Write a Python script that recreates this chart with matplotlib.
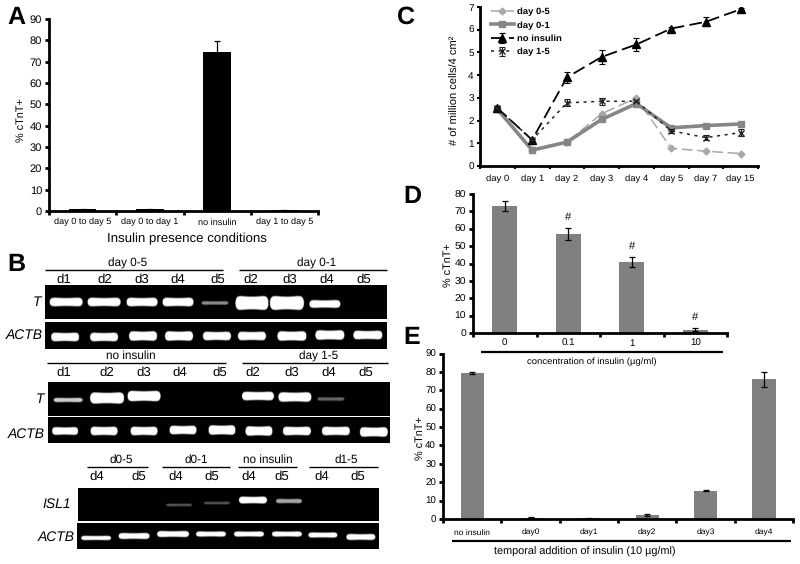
import numpy as np
import matplotlib
matplotlib.use('Agg')
import matplotlib.pyplot as plt

plt.rcParams['font.family'] = ['Liberation Sans', 'DejaVu Sans']
plt.rcParams['text.hinting'] = 'none'

W, H = 800, 564

# panel A
a_labels = ['day 0 to day 5', 'day 0 to day 1', 'no insulin', 'day 1 to day 5']
a_vals = [0.8, 0.8, 74.5, 0.4]
a_err = [0.2, 0.2, 5.0, 0.2]

# panel C
c_days = ['day 0', 'day 1', 'day 2', 'day 3', 'day 4', 'day 5', 'day 7', 'day 15']
c_05 = [2.5, 0.7, 1.05, 2.3, 3.0, 0.78, 0.65, 0.55]
c_01 = [2.5, 0.7, 1.05, 2.05, 2.75, 1.68, 1.78, 1.85]
c_no = [2.55, 1.15, 3.9, 4.8, 5.35, 6.05, 6.35, 6.9]
c_15 = [2.55, 1.15, 2.78, 2.85, 2.85, 1.55, 1.25, 1.47]
c_no_err = [0.05, 0.05, 0.25, 0.3, 0.28, 0.05, 0.2, 0.05]
c_15_err = [0.05, 0.05, 0.15, 0.15, 0.05, 0.1, 0.1, 0.15]

# panel D
d_labels = ['0', '0.1', '1', '10']
d_vals = [73, 57, 41, 2]
d_err = [3, 3.5, 3, 1]
d_marks = ['', '#', '#', '#']

# panel E
e_labels = ['no insulin', 'day0', 'day1', 'day2', 'day3', 'day4']
e_vals = [79.5, 0.7, 0.3, 2.3, 15.3, 76]
e_err = [0.5, 0.2, 0.1, 0.4, 0.3, 4]

# gels: band centre x, centre y, width, height, brightness
t1_x = [66, 104, 142, 178, 215, 252, 287, 325]
t1_y = [302, 302, 302, 302, 303, 303, 303, 304]
t1_w = [33, 33, 31, 31, 27, 33, 34, 31]
t1_h = [10, 10, 10, 10, 4, 16, 16, 9]
t1_b = [1, 1, 1, 1, 0.55, 1, 1, 1]

a1_x = [65, 104, 143, 179, 217, 252, 292, 330, 368]
a1_y = [337, 337, 336, 336, 336, 336, 336, 335, 335]
a1_w = [28, 28, 28, 28, 28, 28, 29, 29, 29]
a1_h = [10, 10, 11, 11, 10, 10, 11, 11, 10]
a1_b = [1] * 9

t2_x = [68, 107, 144, 258, 295, 331]
t2_y = [400, 398, 396, 396, 397, 399]
t2_w = [29, 34, 33, 32, 33, 27]
t2_h = [5, 13, 12, 10, 11, 4]
t2_b = [0.8, 1, 1, 1, 1, 0.4]

a2_x = [65, 104, 144, 183, 222, 259, 297, 336, 374]
a2_y = [431, 431, 431, 430, 430, 431, 431, 431, 432]
a2_w = [26, 27, 27, 27, 27, 27, 28, 28, 28]
a2_h = [9, 10, 10, 10, 11, 11, 10, 10, 11]
a2_b = [1] * 9

isl_x = [179, 217, 253, 289]
isl_y = [505, 503, 500, 501]
isl_w = [26, 26, 28, 26]
isl_h = [3, 3, 8, 5]
isl_b = [0.35, 0.35, 1, 0.65]

a3_x = [96, 134, 173, 211, 249, 287, 323, 361]
a3_y = [538, 536, 534, 534, 534, 534, 535, 537]
a3_w = [30, 31, 32, 30, 30, 30, 29, 29]
a3_h = [5, 7, 7, 6, 6, 6, 6, 7]
a3_b = [1] * 8

fig = plt.figure(figsize=(W / 100, H / 100), dpi=100)


def add_ax(l, t, r, b):
    return fig.add_axes([l / W, 1 - b / H, (r - l) / W, (b - t) / H])


def style_ax(ax, lw=2.0):
    ax.spines['top'].set_visible(False)
    ax.spines['right'].set_visible(False)
    ax.spines['left'].set_linewidth(lw)
    ax.spines['bottom'].set_linewidth(lw)
    ax.patch.set_alpha(0)


def bar_panel(box, labels, vals, err, ymax, step, color, barw, ts, xs):
    ax = add_ax(*box)
    x = np.arange(len(vals))
    ax.bar(x, vals, width=barw, color=color)
    ax.errorbar(x, vals, yerr=err, fmt='none', ecolor='black', elinewidth=0.9, capsize=2, capthick=0.9)
    ax.set_xlim(-0.5, len(vals) - 0.5)
    ax.set_ylim(0, ymax)
    ax.set_yticks(np.arange(0, ymax + 1, step))
    ax.set_xticks(np.arange(len(vals) + 1) - 0.5)
    ax.set_xticklabels([])
    ax.set_xticks(x, labels, minor=True)
    ax.tick_params(axis='x', which='minor', length=0, labelsize=xs, pad=5)
    ax.tick_params(axis='x', which='major', length=3, width=2)
    ax.tick_params(axis='y', length=3, width=2, labelsize=ts, pad=2)
    style_ax(ax)
    return ax


ov = fig.add_axes([0, 0, 1, 1], zorder=5)
ov.set_xlim(0, W)
ov.set_ylim(H, 0)
ov.axis('off')


def lab(x, y, s, size=7.5, **kw):
    kw.setdefault('ha', 'center')
    ov.text(x, y, s, size=size, va='center', **kw)


def rule(x0, x1, y, lw=1.0):
    ov.plot([x0, x1], [y, y], color='black', lw=lw, solid_capstyle='butt')


# panel A
ax_a = bar_panel((49, 19, 318, 211), a_labels, a_vals, a_err, 90, 10, 'black', 0.41, 8, 6.6)
lab(187, 239, 'Insulin presence conditions', 9.5)
lab(21, 120, '% cTnT+', 7.8, rotation=90)

# panel C
ax_c = add_ax(480, 7, 758, 166)
xc = np.arange(len(c_days))
ax_c.plot(xc, c_05, color='#a8a8a8', lw=1.1, dashes=(7, 3), marker='D', ms=3.5, label='day 0-5')
ax_c.plot(xc, c_01, color='#868686', lw=2.6, marker='s', ms=4.8, label='day 0-1')
ax_c.errorbar(xc, c_no, yerr=c_no_err, color='black', lw=1.3, dashes=(7, 3), marker='^', ms=5.5,
              elinewidth=0.8, capsize=2, capthick=0.8, label='no insulin')
ax_c.errorbar(xc, c_15, yerr=c_15_err, color='#222222', lw=1.1, dashes=(2, 3), marker='x', ms=5,
              elinewidth=0.8, capsize=2, capthick=0.8, label='day 1-5')
ax_c.set_xlim(-0.5, len(c_days) - 0.5)
ax_c.set_ylim(0, 7)
ax_c.set_yticks(range(8))
ax_c.set_xticks(np.arange(len(c_days) + 1) - 0.5)
ax_c.set_xticklabels([])
ax_c.set_xticks(xc, c_days, minor=True)
ax_c.tick_params(axis='x', which='minor', length=0, labelsize=6.8, pad=6)
ax_c.tick_params(axis='x', which='major', length=2, width=1.5)
ax_c.tick_params(axis='y', length=2.5, width=1.5, labelsize=7.2, pad=2)
style_ax(ax_c)
ax_c.legend(loc='upper left', bbox_to_anchor=(0.04, 0.995), frameon=False, handlelength=2.4, handletextpad=0.3,
            labelspacing=0.52, prop={'size': 6.8, 'weight': 'bold'}, borderpad=0, borderaxespad=0)
lab(455, 90, '# of million cells/4 cm²', 8, rotation=90)

# panel D
ax_d = bar_panel((473, 194, 727, 333), d_labels, d_vals, d_err, 80, 10, '#808080', 0.4, 7.5, 7)
ax_d.tick_params(axis='x', which='minor', pad=4)
for i, m in enumerate(d_marks):
    if m:
        ax_d.text(i, d_vals[i] + d_err[i] + 3, m, ha='center', va='bottom', size=8)
rule(481, 723, 352, 1.6)
lab(592, 362, 'concentration of insulin (µg/ml)', 6.8)
lab(448, 265, '% cTnT+', 7.8, rotation=90)

# panel E
ax_e = bar_panel((443, 353.6, 793, 519), e_labels, e_vals, e_err, 90, 10, '#808080', 0.4, 7, 6.1)
ax_e.tick_params(axis='x', which='minor', pad=7)
rule(452, 791, 541, 1.6)
lab(585, 552, 'temporal addition of insulin (10 µg/ml)', 7.8)
lab(420, 438, '% cTnT+', 7.8, rotation=90)

# panel letters
for s, x, y in [('A', 16, 18), ('B', 16, 265), ('C', 406, 17), ('D', 412, 197), ('E', 412, 338)]:
    lab(x, y, s, 18, weight='bold')


def smooth(v):
    v = np.clip(v, 0, 1)
    return v * v * (3 - 2 * v)


def gel(box, xs, ys, ws, hs, bs):
    # bands are painted on a 3x grid, thinner in the middle and rounded at the ends
    l, t, r, b = box
    gx, gy = np.meshgrid(np.linspace(l, r, int((r - l) * 3)), np.linspace(t, b, int((b - t) * 3)))
    img = np.zeros_like(gx)
    for x, y, w, h, br in zip(xs, ys, ws, hs, bs):
        dx = np.clip(np.abs(gx - x) / (w / 2), 0, 1)
        half = h / 2 * (0.8 + 0.2 * dx ** 2) * np.sqrt(1 - dx ** 8)
        ey = smooth((half + 0.9 - np.abs(gy - y)) / 1.8)
        img = np.maximum(img, br * ey * (dx < 1))
    ax = add_ax(l, t, r, b)
    ax.imshow(img, cmap='gray', vmin=0, vmax=1, aspect='auto', extent=(l, r, b, t), interpolation='bilinear')
    ax.axis('off')


gel((45, 285, 387, 319), t1_x, t1_y, t1_w, t1_h, t1_b)
gel((45, 322, 387, 349), a1_x, a1_y, a1_w, a1_h, a1_b)
gel((48, 382, 390, 416), t2_x, t2_y, t2_w, t2_h, t2_b)
gel((48, 417, 390, 443), a2_x, a2_y, a2_w, a2_h, a2_b)
gel((78, 488, 379, 521), isl_x, isl_y, isl_w, isl_h, isl_b)
gel((77, 523, 379, 549), a3_x, a3_y, a3_w, a3_h, a3_b)

# gel headers
rule(45, 223, 270)
rule(239, 387, 270)
lab(128, 263, 'day 0-5', 8.5)
lab(317, 263, 'day 0-1', 8.5)
d_row1 = ['d1', 'd2', 'd3', 'd4', 'd5', 'd2', 'd3', 'd4', 'd5']
for x, s in zip([64, 105, 142, 178, 218, 251, 290, 327, 364], d_row1):
    lab(x, 280, s, 9.5)
rule(47, 226, 363)
rule(242, 388, 363)
lab(131, 356, 'no insulin', 8.5)
lab(319, 356, 'day 1-5', 8.5)
for x, s in zip([64, 107, 144, 180, 220, 253, 292, 329, 366], d_row1):
    lab(x, 373, s, 9.5)
for x0, x1, xm, s in [(87, 148, 121, 'd0-5'), (162, 230, 196, 'd0-1'), (238, 297, 268, 'no insulin'), (309, 378, 346, 'd1-5')]:
    rule(x0, x1, 467)
    lab(xm, 460, s, 8.5)
d_row3 = ['d4', 'd5', 'd4', 'd5', 'd4', 'd5', 'd4', 'd5']
for x, s in zip([97, 139, 176, 212, 249, 282, 322, 358], d_row3):
    lab(x, 477, s, 9.5)

# gel names
for x, y, s in [(37, 302, 'T'), (24, 335, 'ACTB'), (40, 399, 'T'), (26, 434, 'ACTB'), (57, 504, 'ISL1'), (56, 537, 'ACTB')]:
    lab(x, y, s, 10, style='italic')

fig.savefig('out.png', dpi=100)
